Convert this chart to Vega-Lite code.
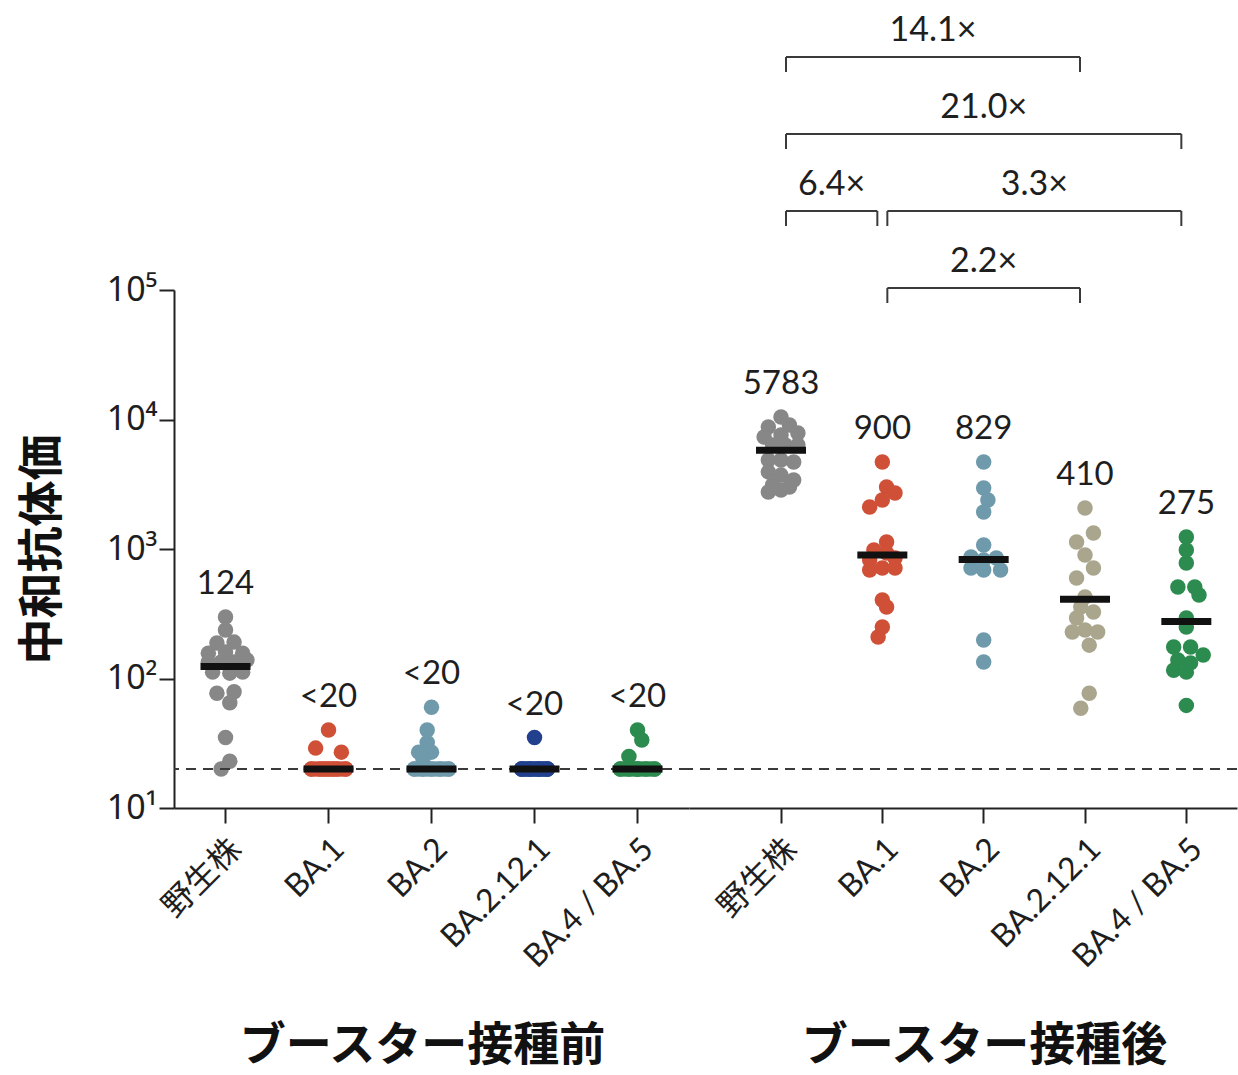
{
  "$schema": "https://vega.github.io/schema/vega-lite/v6.json",
  "background": "white",
  "padding": {"left": 19, "top": 14, "right": 0, "bottom": 6},
  "spacing": 0,
  "bounds": "flush",
  "config": {
    "view": {"stroke": null},
    "font": "Lato",
    "axis": {"grid": false, "domainColor": "#222", "domainWidth": 2, "tickColor": "#222", "tickWidth": 2, "tickSize": 15, "labelColor": "#1e1e1e", "titleColor": "#111"}
  },
  "datasets": {
    "pre": [
      {"v": "野生株", "value": 298, "lane": 0}, {"v": "野生株", "value": 237, "lane": 0}, {"v": "野生株", "value": 188, "lane": -1}, {"v": "野生株", "value": 191, "lane": 1},
      {"v": "野生株", "value": 157, "lane": -2}, {"v": "野生株", "value": 160, "lane": 0}, {"v": "野生株", "value": 157, "lane": 2}, {"v": "野生株", "value": 134, "lane": -2},
      {"v": "野生株", "value": 134, "lane": -0.5}, {"v": "野生株", "value": 134, "lane": 1}, {"v": "野生株", "value": 139, "lane": 2.5}, {"v": "野生株", "value": 112, "lane": -1.5},
      {"v": "野生株", "value": 110, "lane": 0.5}, {"v": "野生株", "value": 112, "lane": 2}, {"v": "野生株", "value": 77, "lane": -1}, {"v": "野生株", "value": 79, "lane": 1},
      {"v": "野生株", "value": 65, "lane": 0.5}, {"v": "野生株", "value": 35, "lane": 0}, {"v": "野生株", "value": 23, "lane": 0.5}, {"v": "野生株", "value": 20, "lane": -0.5},
      {"v": "BA.1", "value": 40, "lane": 0}, {"v": "BA.1", "value": 29, "lane": -1.5}, {"v": "BA.1", "value": 27, "lane": 1.5},
      {"v": "BA.1", "value": 20, "lane": -2}, {"v": "BA.1", "value": 20, "lane": -1}, {"v": "BA.1", "value": 20, "lane": 0}, {"v": "BA.1", "value": 20, "lane": 1},
      {"v": "BA.1", "value": 20, "lane": 2}, {"v": "BA.1", "value": 20, "lane": -1.5}, {"v": "BA.1", "value": 20, "lane": -0.5}, {"v": "BA.1", "value": 20, "lane": 0.5},
      {"v": "BA.1", "value": 20, "lane": 1.5}, {"v": "BA.1", "value": 20, "lane": -2}, {"v": "BA.1", "value": 20, "lane": 2}, {"v": "BA.1", "value": 20, "lane": 0},
      {"v": "BA.1", "value": 20, "lane": -1}, {"v": "BA.1", "value": 20, "lane": 1}, {"v": "BA.1", "value": 20, "lane": -0.5}, {"v": "BA.1", "value": 20, "lane": 0.5},
      {"v": "BA.2", "value": 60, "lane": 0}, {"v": "BA.2", "value": 40, "lane": -0.5}, {"v": "BA.2", "value": 32, "lane": -0.5}, {"v": "BA.2", "value": 27, "lane": -1.5},
      {"v": "BA.2", "value": 27, "lane": 0}, {"v": "BA.2", "value": 24, "lane": -1},
      {"v": "BA.2", "value": 20, "lane": -2}, {"v": "BA.2", "value": 20, "lane": -1}, {"v": "BA.2", "value": 20, "lane": 0}, {"v": "BA.2", "value": 20, "lane": 1},
      {"v": "BA.2", "value": 20, "lane": 2}, {"v": "BA.2", "value": 20, "lane": -1.5}, {"v": "BA.2", "value": 20, "lane": -0.5}, {"v": "BA.2", "value": 20, "lane": 0.5},
      {"v": "BA.2", "value": 20, "lane": 1.5}, {"v": "BA.2", "value": 20, "lane": -2}, {"v": "BA.2", "value": 20, "lane": 2}, {"v": "BA.2", "value": 20, "lane": 0},
      {"v": "BA.2", "value": 20, "lane": -1}, {"v": "BA.2", "value": 20, "lane": 1},
      {"v": "BA.2.12.1", "value": 35, "lane": 0},
      {"v": "BA.2.12.1", "value": 20, "lane": -1.5}, {"v": "BA.2.12.1", "value": 20, "lane": -0.5}, {"v": "BA.2.12.1", "value": 20, "lane": 0.5}, {"v": "BA.2.12.1", "value": 20, "lane": 1.5},
      {"v": "BA.2.12.1", "value": 20, "lane": -1}, {"v": "BA.2.12.1", "value": 20, "lane": 0}, {"v": "BA.2.12.1", "value": 20, "lane": 1}, {"v": "BA.2.12.1", "value": 20, "lane": -1.5},
      {"v": "BA.2.12.1", "value": 20, "lane": 1.5}, {"v": "BA.2.12.1", "value": 20, "lane": -0.5}, {"v": "BA.2.12.1", "value": 20, "lane": 0.5}, {"v": "BA.2.12.1", "value": 20, "lane": 0},
      {"v": "BA.2.12.1", "value": 20, "lane": -1}, {"v": "BA.2.12.1", "value": 20, "lane": 1}, {"v": "BA.2.12.1", "value": 20, "lane": -1.5}, {"v": "BA.2.12.1", "value": 20, "lane": 1.5},
      {"v": "BA.2.12.1", "value": 20, "lane": -0.5}, {"v": "BA.2.12.1", "value": 20, "lane": 0.5},
      {"v": "BA.4 / BA.5", "value": 40, "lane": 0}, {"v": "BA.4 / BA.5", "value": 33.5, "lane": 0.5}, {"v": "BA.4 / BA.5", "value": 25, "lane": -1},
      {"v": "BA.4 / BA.5", "value": 20, "lane": -2}, {"v": "BA.4 / BA.5", "value": 20, "lane": -1}, {"v": "BA.4 / BA.5", "value": 20, "lane": 0}, {"v": "BA.4 / BA.5", "value": 20, "lane": 1},
      {"v": "BA.4 / BA.5", "value": 20, "lane": 2}, {"v": "BA.4 / BA.5", "value": 20, "lane": -1.5}, {"v": "BA.4 / BA.5", "value": 20, "lane": -0.5}, {"v": "BA.4 / BA.5", "value": 20, "lane": 0.5},
      {"v": "BA.4 / BA.5", "value": 20, "lane": 1.5}, {"v": "BA.4 / BA.5", "value": 20, "lane": -2}, {"v": "BA.4 / BA.5", "value": 20, "lane": 2}, {"v": "BA.4 / BA.5", "value": 20, "lane": 0},
      {"v": "BA.4 / BA.5", "value": 20, "lane": -1}, {"v": "BA.4 / BA.5", "value": 20, "lane": 1}, {"v": "BA.4 / BA.5", "value": 20, "lane": 0}
    ],
    "post": [
      {"v": "野生株", "value": 10450, "lane": 0}, {"v": "野生株", "value": 8750, "lane": -1.5}, {"v": "野生株", "value": 9070, "lane": 1}, {"v": "野生株", "value": 7870, "lane": 2},
      {"v": "野生株", "value": 7330, "lane": -2}, {"v": "野生株", "value": 7590, "lane": 0}, {"v": "野生株", "value": 6350, "lane": -1}, {"v": "野生株", "value": 6350, "lane": 0.5},
      {"v": "野生株", "value": 6350, "lane": 2}, {"v": "野生株", "value": 4870, "lane": -1.5}, {"v": "野生株", "value": 4870, "lane": 0}, {"v": "野生株", "value": 4700, "lane": 1.5},
      {"v": "野生株", "value": 3940, "lane": -1.5}, {"v": "野生株", "value": 3720, "lane": 0}, {"v": "野生株", "value": 3410, "lane": 1.5}, {"v": "野生株", "value": 3120, "lane": -1},
      {"v": "野生株", "value": 3010, "lane": 1}, {"v": "野生株", "value": 2760, "lane": -1.5}, {"v": "野生株", "value": 2860, "lane": 0},
      {"v": "BA.1", "value": 4700, "lane": 0}, {"v": "BA.1", "value": 3010, "lane": 0.5}, {"v": "BA.1", "value": 2710, "lane": 1.5}, {"v": "BA.1", "value": 2390, "lane": 0},
      {"v": "BA.1", "value": 2110, "lane": -1.5}, {"v": "BA.1", "value": 1133, "lane": 0.5}, {"v": "BA.1", "value": 982, "lane": -1}, {"v": "BA.1", "value": 931, "lane": 0.5},
      {"v": "BA.1", "value": 853, "lane": 1.5}, {"v": "BA.1", "value": 822, "lane": -1.5}, {"v": "BA.1", "value": 689, "lane": -1.5}, {"v": "BA.1", "value": 713, "lane": 0},
      {"v": "BA.1", "value": 713, "lane": 1.5}, {"v": "BA.1", "value": 404, "lane": 0}, {"v": "BA.1", "value": 357, "lane": 0.5}, {"v": "BA.1", "value": 250, "lane": 0},
      {"v": "BA.1", "value": 209, "lane": -0.5},
      {"v": "BA.2", "value": 4700, "lane": 0}, {"v": "BA.2", "value": 2960, "lane": 0}, {"v": "BA.2", "value": 2390, "lane": 0.5}, {"v": "BA.2", "value": 1930, "lane": 0},
      {"v": "BA.2", "value": 1075, "lane": 0}, {"v": "BA.2", "value": 867, "lane": -1.5}, {"v": "BA.2", "value": 853, "lane": 1.5}, {"v": "BA.2", "value": 822, "lane": 0},
      {"v": "BA.2", "value": 713, "lane": -1.5}, {"v": "BA.2", "value": 689, "lane": 0}, {"v": "BA.2", "value": 689, "lane": 2}, {"v": "BA.2", "value": 198, "lane": 0},
      {"v": "BA.2", "value": 134, "lane": 0},
      {"v": "BA.2.12.1", "value": 2075, "lane": 0}, {"v": "BA.2.12.1", "value": 1330, "lane": 1}, {"v": "BA.2.12.1", "value": 1133, "lane": -1}, {"v": "BA.2.12.1", "value": 899, "lane": 0},
      {"v": "BA.2.12.1", "value": 713, "lane": 1}, {"v": "BA.2.12.1", "value": 597, "lane": -1}, {"v": "BA.2.12.1", "value": 426, "lane": 0}, {"v": "BA.2.12.1", "value": 357, "lane": -0.5},
      {"v": "BA.2.12.1", "value": 326, "lane": 1}, {"v": "BA.2.12.1", "value": 293, "lane": -1}, {"v": "BA.2.12.1", "value": 237, "lane": 0}, {"v": "BA.2.12.1", "value": 229, "lane": -1.5},
      {"v": "BA.2.12.1", "value": 229, "lane": 1.5}, {"v": "BA.2.12.1", "value": 181, "lane": 0.5}, {"v": "BA.2.12.1", "value": 77, "lane": 0.5}, {"v": "BA.2.12.1", "value": 59, "lane": -0.5},
      {"v": "BA.4 / BA.5", "value": 1239, "lane": 0}, {"v": "BA.4 / BA.5", "value": 982, "lane": 0}, {"v": "BA.4 / BA.5", "value": 780, "lane": 0}, {"v": "BA.4 / BA.5", "value": 509, "lane": -1},
      {"v": "BA.4 / BA.5", "value": 509, "lane": 1}, {"v": "BA.4 / BA.5", "value": 442, "lane": 1.5}, {"v": "BA.4 / BA.5", "value": 293, "lane": 0}, {"v": "BA.4 / BA.5", "value": 250, "lane": 0},
      {"v": "BA.4 / BA.5", "value": 175, "lane": -1.5}, {"v": "BA.4 / BA.5", "value": 175, "lane": 0.5}, {"v": "BA.4 / BA.5", "value": 152, "lane": 2}, {"v": "BA.4 / BA.5", "value": 139, "lane": -1},
      {"v": "BA.4 / BA.5", "value": 132, "lane": 0.5}, {"v": "BA.4 / BA.5", "value": 116, "lane": -1.5}, {"v": "BA.4 / BA.5", "value": 112, "lane": 0}, {"v": "BA.4 / BA.5", "value": 62, "lane": 0}
    ],
    "preSum": [
      {"v": "野生株", "gmt": 124, "label": "124"},
      {"v": "BA.1", "gmt": 20, "label": "<20"},
      {"v": "BA.2", "gmt": 20, "label": "<20"},
      {"v": "BA.2.12.1", "gmt": 20, "label": "<20"},
      {"v": "BA.4 / BA.5", "gmt": 20, "label": "<20"}
    ],
    "postSum": [
      {"v": "野生株", "gmt": 5783, "label": "5783"},
      {"v": "BA.1", "gmt": 900, "label": "900"},
      {"v": "BA.2", "gmt": 829, "label": "829"},
      {"v": "BA.2.12.1", "gmt": 410, "label": "410"},
      {"v": "BA.4 / BA.5", "gmt": 275, "label": "275"}
    ],
    "brackets": [
      {"from": "野生株", "to": "BA.2.12.1", "tier": 4, "label": "14.1×"},
      {"from": "野生株", "to": "BA.4 / BA.5", "tier": 3, "label": "21.0×"},
      {"from": "野生株", "to": "BA.1", "tier": 2, "label": "6.4×"},
      {"from": "BA.1", "to": "BA.4 / BA.5", "tier": 2, "label": "3.3×"},
      {"from": "BA.1", "to": "BA.2.12.1", "tier": 1, "label": "2.2×"}
    ]
  },
  "hconcat": [
    {
      "width": 515,
      "height": 518,
      "layer": [
        {
          "data": {"name": "pre"},
          "mark": {"type": "circle", "size": 240, "opacity": 1},
          "encoding": {
            "x": {"field": "v", "type": "nominal",
                  "scale": {"domain": ["野生株", "BA.1", "BA.2", "BA.2.12.1", "BA.4 / BA.5"], "paddingInner": 0, "paddingOuter": 0},
                  "axis": {"title": "ブースター接種前", "labelAngle": -45, "labelFont": "Lato, Noto Sans CJK JP", "labelFontSize": 32, "labelPadding": 10,
                           "titleFont": "Noto Sans CJK JP", "titleFontSize": 46, "titleFontWeight": "bold", "titlePadding": 50, "titleX": 248}},
            "xOffset": {"field": "lane", "type": "quantitative", "scale": {"domain": [-6, 6]}},
            "y": {"field": "value", "type": "quantitative",
                  "scale": {"type": "log", "domain": [10, 100000], "nice": false},
                  "axis": {"title": "中和抗体価", "values": [10, 100, 1000, 10000, 100000],
                           "labelExpr": "'10' + ['¹','²','³','⁴','⁵'][round(log(datum.value)/LN10) - 1]",
                           "labelFont": "Noto Sans", "labelFontSize": 34, "labelPadding": 2,
                           "titleFont": "Noto Sans CJK JP", "titleFontSize": 46, "titleFontWeight": "bold", "titlePadding": 40}},
            "color": {"field": "v", "type": "nominal", "legend": null,
                      "scale": {"domain": ["野生株", "BA.1", "BA.2", "BA.2.12.1", "BA.4 / BA.5"], "range": ["#878787", "#cf5037", "#6e9aab", "#22408e", "#2c8b4e"]}}
          }
        },
        {
          "data": {"values": [{"limit": 20}]},
          "mark": {"type": "rule", "strokeDash": [10, 7], "color": "#3a3a3a", "strokeWidth": 2},
          "encoding": {"y": {"field": "limit", "type": "quantitative"}}
        },
        {
          "data": {"name": "preSum"},
          "mark": {"type": "tick", "color": "#111111", "opacity": 1, "thickness": 7, "size": 50},
          "encoding": {
            "x": {"field": "v", "type": "nominal"},
            "y": {"field": "gmt", "type": "quantitative"}
          }
        },
        {
          "data": {"name": "pre"},
          "transform": [
            {"aggregate": [{"op": "max", "field": "value", "as": "top"}], "groupby": ["v"]},
            {"lookup": "v", "from": {"data": {"name": "preSum"}, "key": "v", "fields": ["label"]}}
          ],
          "mark": {"type": "text", "dy": -33, "fontSize": 33, "font": "Lato", "color": "#1e1e1e", "baseline": "middle"},
          "encoding": {
            "x": {"field": "v", "type": "nominal"},
            "y": {"field": "top", "type": "quantitative"},
            "text": {"field": "label"}
          }
        }
      ]
    },
    {
      "width": 548,
      "height": 518,
      "layer": [
        {
          "layer": [
            {
              "data": {"name": "post"},
              "mark": {"type": "circle", "size": 240, "opacity": 1},
              "encoding": {
                "x": {"field": "v", "type": "nominal",
                      "scale": {"domain": ["野生株", "BA.1", "BA.2", "BA.2.12.1", "BA.4 / BA.5"], "paddingInner": 0, "paddingOuter": 0.204, "align": 1},
                      "axis": {"title": "ブースター接種後", "labelAngle": -45, "labelFont": "Lato, Noto Sans CJK JP", "labelFontSize": 32, "labelPadding": 10,
                               "titleFont": "Noto Sans CJK JP", "titleFontSize": 46, "titleFontWeight": "bold", "titlePadding": 50, "titleX": 295}},
                "xOffset": {"field": "lane", "type": "quantitative", "scale": {"domain": [-6, 6]}},
                "y": {"field": "value", "type": "quantitative",
                      "scale": {"type": "log", "domain": [10, 100000], "nice": false}, "axis": null},
                "color": {"field": "v", "type": "nominal", "legend": null,
                          "scale": {"domain": ["野生株", "BA.1", "BA.2", "BA.2.12.1", "BA.4 / BA.5"], "range": ["#878787", "#cf5037", "#6e9aab", "#aaa68d", "#2c8b4e"]}}
              }
            },
            {
              "data": {"values": [{"limit": 20}]},
              "mark": {"type": "rule", "strokeDash": [10, 7], "color": "#3a3a3a", "strokeWidth": 2},
              "encoding": {"y": {"field": "limit", "type": "quantitative", "axis": null}}
            },
            {
              "data": {"name": "postSum"},
              "mark": {"type": "tick", "color": "#111111", "opacity": 1, "thickness": 7, "size": 50},
              "encoding": {
                "x": {"field": "v", "type": "nominal"},
                "y": {"field": "gmt", "type": "quantitative", "axis": null}
              }
            },
            {
              "data": {"name": "post"},
              "transform": [
                {"aggregate": [{"op": "max", "field": "value", "as": "top"}], "groupby": ["v"]},
                {"lookup": "v", "from": {"data": {"name": "postSum"}, "key": "v", "fields": ["label"]}}
              ],
              "mark": {"type": "text", "dy": -33, "fontSize": 33, "font": "Lato", "color": "#1e1e1e", "baseline": "middle"},
              "encoding": {
                "x": {"field": "v", "type": "nominal"},
                "y": {"field": "top", "type": "quantitative", "axis": null},
                "text": {"field": "label"}
              }
            }
          ]
        },
        {
          "data": {"name": "brackets"},
          "layer": [
            {
              "mark": {"type": "rule", "color": "#3a3a3a", "strokeWidth": 2, "xOffset": 5, "x2Offset": -5},
              "encoding": {
                "x": {"field": "from", "type": "nominal"},
                "x2": {"field": "to"},
                "y": {"field": "tier", "type": "quantitative", "axis": null, "scale": {"domain": [1, 4], "range": [-2, -233], "nice": false, "zero": false}}
              }
            },
            {
              "mark": {"type": "rule", "color": "#3a3a3a", "strokeWidth": 2, "xOffset": 5, "y2Offset": 15},
              "encoding": {
                "x": {"field": "from", "type": "nominal"},
                "y": {"field": "tier", "type": "quantitative", "axis": null},
                "y2": {"field": "tier"}
              }
            },
            {
              "mark": {"type": "rule", "color": "#3a3a3a", "strokeWidth": 2, "xOffset": -5, "y2Offset": 15},
              "encoding": {
                "x": {"field": "to", "type": "nominal"},
                "y": {"field": "tier", "type": "quantitative", "axis": null},
                "y2": {"field": "tier"}
              }
            },
            {
              "transform": [
                {"calculate": "(indexof(['野生株','BA.1','BA.2','BA.2.12.1','BA.4 / BA.5'], datum.to) - indexof(['野生株','BA.1','BA.2','BA.2.12.1','BA.4 / BA.5'], datum.from)) / 2", "as": "half"}
              ],
              "mark": {"type": "text", "dy": -26, "fontSize": 34, "font": "Lato", "color": "#1e1e1e", "baseline": "middle"},
              "encoding": {
                "x": {"field": "from", "type": "nominal"},
                "xOffset": {"field": "half", "type": "quantitative", "scale": {"domain": [-0.5, 0.5]}},
                "y": {"field": "tier", "type": "quantitative", "axis": null},
                "text": {"field": "label"}
              }
            }
          ]
        }
      ],
      "resolve": {"scale": {"y": "independent", "xOffset": "independent"}}
    }
  ],
  "resolve": {"scale": {"x": "independent", "y": "independent", "color": "independent", "xOffset": "independent"}}
}
